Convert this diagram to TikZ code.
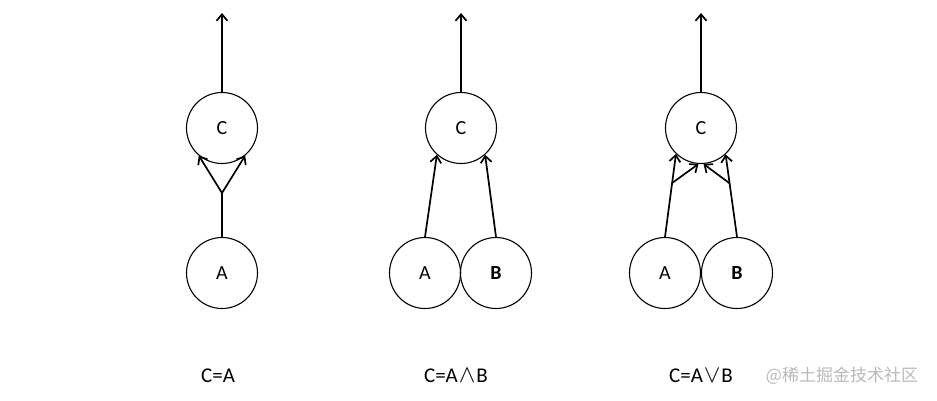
\documentclass[tikz,border=0pt]{standalone}
\usepackage{fontspec}
\setmainfont{Carlito}
\newfontfamily\cjkfont{Noto Sans CJK SC}
\usepackage{tikz}
\usetikzlibrary{arrows.meta,calc,positioning}

\begin{document}
\begin{tikzpicture}[x=1pt,y=-1pt,>={Straight Barb[length=6.5pt,width=11pt]},
  neuron/.style={draw,circle,line width=1.1pt,minimum size=71pt,inner sep=0pt,font=\fontsize{20}{24}\selectfont},
  edge/.style={->,line width=1.7pt},
  lbl/.style={font=\fontsize{21}{24}\selectfont}]
  \useasboundingbox (0,0) rectangle (937,400);
  % left: C = A
  \node[neuron] (C1) at (222,128) {C};
  \node[neuron] (A1) at (222,273) {A};
  \coordinate (J1) at (222,193);
  \coordinate (T1) at (222,13);
  \draw[edge] (C1.north) -- (T1);
  \draw[line width=1.7pt] (A1.north) -- (J1);
  \draw[edge] (J1) -- (C1.230);
  \draw[edge] (J1) -- (C1.310);
  \node[lbl] (L1) at (218,376) {C=A};
  % middle: C = A and B
  \node[neuron] (C2) at (461,128) {C};
  \node[neuron] (A2) at (425,273) {A};
  \node[neuron] (B2) at (496,273) {\bfseries B};
  \coordinate (T2) at (461,13);
  \draw[edge] (C2.north) -- (T2);
  \draw[edge] (A2.north) -- (C2.228);
  \draw[edge] (B2.north) -- (C2.312);
  \node[lbl] (L2) at (456,376) {C=A\kern1pt{\fontsize{27}{24}\selectfont$\wedge$}\kern1ptB};
  % right: C = A or B
  \node[neuron] (C3) at (701,128) {C};
  \node[neuron] (A3) at (665,273) {A};
  \node[neuron] (B3) at (737,273) {\bfseries B};
  \coordinate (T3) at (701,13);
  \coordinate (P3) at ($(A3.north)!0.65!(C3.226)$);
  \coordinate (Q3) at ($(B3.north)!0.65!(C3.313)$);
  \draw[edge] (C3.north) -- (T3);
  \draw[edge] (A3.north) -- (C3.226);
  \draw[edge] (B3.north) -- (C3.313);
  \draw[edge] (P3) -- (C3.266);
  \draw[edge] (Q3) -- (C3.274);
  \node[lbl] (L3) at (701,376) {C=A\kern1pt{\fontsize{27}{24}\selectfont$\vee$}\kern1ptB};
  % watermark
  \node[text=gray!55,font=\cjkfont\fontsize{17}{20}\selectfont] (W) at (842,376) {@稀土掘金技术社区};
\end{tikzpicture}
\end{document}
